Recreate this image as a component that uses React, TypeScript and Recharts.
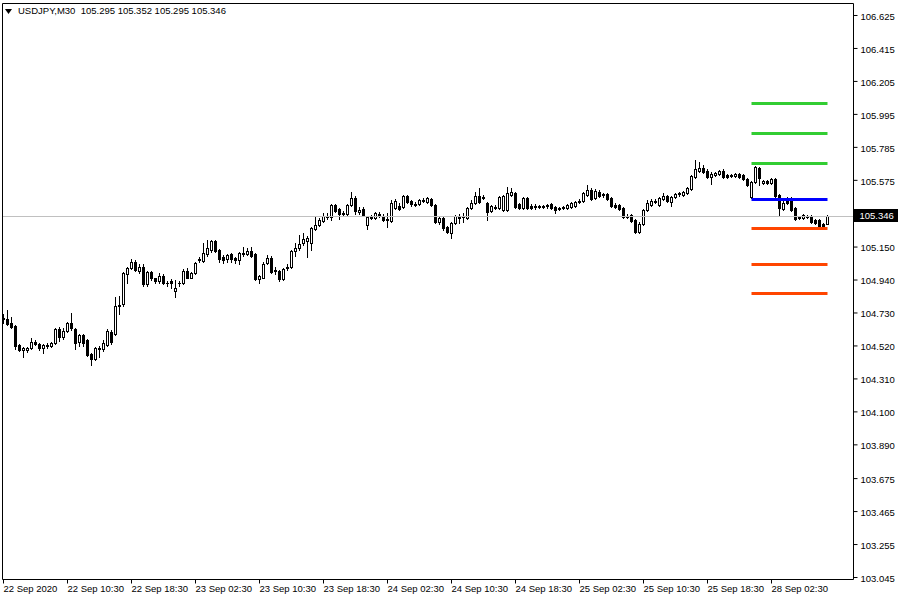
import React from "react";
import { ComposedChart, Bar, Line, XAxis, YAxis, ReferenceLine } from "recharts";

// ---- data (USDJPY M30) ----
const opens = [
104.694,104.694,104.669,104.650,104.528,104.496,104.496,104.509,104.548,104.535,
104.509,104.522,104.522,104.541,104.631,104.580,104.618,104.669,104.631,104.548,
104.592,104.560,104.471,104.439,104.503,104.503,104.528,104.612,104.599,104.777,
104.790,104.976,105.014,105.052,104.995,105.020,104.912,104.988,104.950,104.931,
104.963,104.924,104.931,104.867,104.918,104.918,104.995,104.956,104.982,105.065,
105.059,105.103,105.129,105.186,105.129,105.084,105.071,105.103,105.078,105.065,
105.103,105.103,105.123,105.103,104.944,104.956,105.046,105.078,104.995,104.995,
104.944,105.014,105.020,105.123,105.142,105.174,105.186,105.174,105.263,105.289,
105.314,105.340,105.340,105.417,105.391,105.365,105.359,105.417,105.461,105.372,
105.391,105.289,105.333,105.333,105.359,105.346,105.321,105.314,105.397,105.410,
105.404,105.474,105.442,105.423,105.423,105.449,105.436,105.455,105.417,105.308,
105.333,105.276,105.238,105.301,105.346,105.340,105.333,105.397,105.429,105.474,
105.468,105.429,105.378,105.397,105.397,105.385,105.385,105.481,105.493,105.423,
105.397,105.461,105.410,105.404,105.410,105.404,105.410,105.423,105.404,105.391,
105.397,105.397,105.404,105.410,105.436,105.442,105.481,105.513,105.461,105.500,
105.481,105.487,105.461,105.417,105.417,105.397,105.346,105.353,105.321,105.244,
105.295,105.385,105.417,105.442,105.417,105.455,105.474,105.436,105.468,105.487,
105.481,105.493,105.519,105.596,105.634,105.653,105.634,105.596,105.608,105.615,
105.634,105.608,105.608,105.602,105.615,105.608,105.583,105.468,105.564,105.653,
105.557,105.570,105.557,105.583,105.481,105.391,105.455,105.442,105.397,105.340,
105.333,105.346,105.346,105.321,105.321,105.295,105.295];
const highs = [
104.726,104.746,104.707,104.656,104.535,104.516,104.516,104.573,104.560,104.541,
104.535,104.541,104.548,104.637,104.643,104.637,104.675,104.733,104.637,104.599,
104.599,104.567,104.477,104.516,104.522,104.560,104.631,104.624,104.835,104.841,
104.988,105.020,105.071,105.065,105.040,105.040,104.995,104.995,104.956,104.982,
104.976,104.931,104.944,104.937,104.931,105.008,105.014,104.988,105.052,105.084,
105.174,105.193,105.193,105.193,105.135,105.097,105.103,105.110,105.084,105.116,
105.148,105.142,105.148,105.110,104.969,105.052,105.097,105.091,105.020,105.001,
105.014,105.040,105.129,105.174,105.225,105.238,105.218,105.276,105.340,105.333,
105.365,105.365,105.423,105.423,105.397,105.378,105.423,105.500,105.474,105.404,
105.404,105.346,105.353,105.372,105.372,105.359,105.365,105.449,105.455,105.429,
105.481,105.481,105.449,105.436,105.455,105.461,105.468,105.461,105.423,105.346,
105.340,105.282,105.308,105.353,105.359,105.365,105.404,105.449,105.500,105.525,
105.481,105.436,105.417,105.417,105.474,105.481,105.532,105.525,105.500,105.429,
105.468,105.468,105.423,105.423,105.417,105.417,105.423,105.429,105.410,105.404,
105.410,105.423,105.436,105.442,105.455,105.500,105.545,105.525,105.519,105.513,
105.493,105.493,105.468,105.429,105.423,105.404,105.359,105.359,105.327,105.308,
105.391,105.449,105.455,105.455,105.468,105.493,105.481,105.474,105.493,105.500,
105.506,105.532,105.608,105.704,105.692,105.672,105.647,105.628,105.628,105.640,
105.647,105.615,105.615,105.621,105.621,105.615,105.589,105.570,105.666,105.660,
105.577,105.577,105.589,105.589,105.487,105.449,105.468,105.468,105.404,105.346,
105.359,105.353,105.353,105.327,105.327,105.301,105.352];
const lows = [
104.669,104.656,104.637,104.503,104.490,104.452,104.484,104.503,104.528,104.496,
104.477,104.509,104.516,104.535,104.554,104.567,104.612,104.624,104.503,104.522,
104.522,104.458,104.400,104.432,104.452,104.490,104.522,104.535,104.592,104.726,
104.777,104.918,105.008,104.995,104.982,104.905,104.905,104.937,104.924,104.918,
104.912,104.905,104.892,104.835,104.905,104.912,104.950,104.950,104.976,105.052,
105.052,105.091,105.116,105.116,105.052,105.046,105.052,105.052,105.046,105.040,
105.091,105.097,105.084,104.937,104.918,104.950,105.040,104.982,104.976,104.931,
104.937,105.001,105.014,105.091,105.129,105.161,105.084,105.129,105.257,105.282,
105.308,105.327,105.321,105.372,105.327,105.353,105.353,105.410,105.359,105.359,
105.346,105.263,105.327,105.327,105.340,105.314,105.276,105.308,105.391,105.385,
105.397,105.429,105.410,105.410,105.417,105.436,105.429,105.410,105.301,105.295,
105.257,105.238,105.206,105.295,105.301,105.308,105.327,105.391,105.423,105.429,
105.455,105.321,105.372,105.391,105.391,105.378,105.378,105.474,105.397,105.391,
105.391,105.391,105.391,105.391,105.397,105.397,105.397,105.391,105.365,105.385,
105.391,105.391,105.397,105.404,105.429,105.436,105.474,105.449,105.455,105.468,
105.468,105.449,105.404,105.397,105.385,105.333,105.333,105.308,105.238,105.238,
105.289,105.378,105.410,105.429,105.410,105.449,105.436,105.410,105.461,105.474,
105.474,105.487,105.513,105.589,105.628,105.621,105.589,105.551,105.602,105.608,
105.589,105.589,105.596,105.596,105.589,105.577,105.538,105.461,105.557,105.545,
105.551,105.551,105.551,105.468,105.353,105.385,105.423,105.378,105.321,105.327,
105.327,105.333,105.301,105.295,105.276,105.276,105.295];
const closes = [
104.701,104.663,104.643,104.522,104.496,104.509,104.509,104.548,104.535,104.509,
104.528,104.524,104.541,104.631,104.580,104.618,104.669,104.637,104.541,104.592,
104.541,104.464,104.439,104.509,104.509,104.541,104.618,104.548,104.777,104.784,
104.982,105.014,105.052,105.001,105.020,104.912,104.988,104.950,104.931,104.963,
104.918,104.918,104.918,104.892,104.924,104.995,104.956,104.982,105.046,105.071,
105.110,105.142,105.186,105.123,105.071,105.065,105.097,105.071,105.065,105.110,
105.110,105.123,105.091,104.944,104.963,105.040,105.078,104.988,105.001,104.944,
105.008,105.020,105.123,105.142,105.167,105.199,105.206,105.270,105.289,105.321,
105.346,105.346,105.417,105.378,105.359,105.359,105.417,105.461,105.378,105.385,
105.353,105.340,105.340,105.365,105.346,105.321,105.327,105.429,105.442,105.391,
105.474,105.436,105.423,105.417,105.449,105.442,105.461,105.417,105.308,105.333,
105.270,105.244,105.301,105.346,105.333,105.346,105.397,105.429,105.474,105.436,
105.461,105.372,105.410,105.404,105.468,105.474,105.493,105.500,105.404,105.397,
105.461,105.397,105.397,105.410,105.404,105.410,105.417,105.397,105.385,105.397,
105.404,105.417,105.429,105.436,105.442,105.493,105.513,105.455,105.506,105.474,
105.487,105.455,105.410,105.404,105.391,105.340,105.340,105.314,105.244,105.295,
105.385,105.429,105.442,105.436,105.461,105.474,105.442,105.468,105.487,105.493,
105.500,105.525,105.602,105.647,105.653,105.628,105.596,105.615,105.621,105.634,
105.596,105.596,105.602,105.615,105.596,105.583,105.545,105.564,105.660,105.589,
105.570,105.557,105.583,105.474,105.397,105.429,105.429,105.385,105.327,105.333,
105.353,105.340,105.308,105.301,105.282,105.282,105.346];

// time axis labels (every 16 bars)
const timeTickIndex = [0, 16, 32, 48, 64, 80, 96, 112, 128, 144, 160, 176, 192];
const timeLabels = [
  "22 Sep 2020", "22 Sep 10:30", "22 Sep 18:30", "23 Sep 02:30", "23 Sep 10:30",
  "23 Sep 18:30", "24 Sep 02:30", "24 Sep 10:30", "24 Sep 18:30", "25 Sep 02:30",
  "25 Sep 10:30", "25 Sep 18:30", "28 Sep 02:30",
];

// price axis labels
const priceTicks = [
  106.625, 106.415, 106.205, 105.995, 105.785, 105.575, 105.15, 104.94, 104.73,
  104.52, 104.31, 104.1, 103.89, 103.675, 103.465, 103.255, 103.045,
];
const priceDomain: [number, number] = [103.0323, 106.7014];
const barDomain: [number, number] = [-0.25, 212.5];

// pivot levels (drawn from Monday open bar)
const pivotStartBar = 187;
const pivotKeys = ["r3", "r2", "r1", "pp", "s1", "s2", "s3"];
const pivotValues = [106.064, 105.873, 105.682, 105.453, 105.268, 105.039, 104.854];
const pivotColors = ["#32CD32", "#32CD32", "#32CD32", "#0000FF", "#FF4500", "#FF4500", "#FF4500"];

const symbolTitle = "USDJPY,M30";
const lastBar = { open: 105.295, high: 105.352, low: 105.295, close: 105.346 };

const FONT = "Tahoma, 'Liberation Sans', Arial, sans-serif";

const data = opens.map((o, i) => {
  const row: any = {
    i,
    open: o,
    high: highs[i],
    low: lows[i],
    close: closes[i],
    range: [lows[i], highs[i]],
  };
  if (i >= pivotStartBar) {
    pivotKeys.forEach((k, j) => (row[k] = pivotValues[j]));
  }
  return row;
});

const Candle = (props: any) => {
  const { x, y, width, height, payload } = props;
  if (!payload || height == null) return null;
  const { open, close, high, low } = payload;
  const span = high - low;
  const k = span > 0 ? height / span : 0;
  const yOf = (v: number) => Math.round(y + (high - v) * k);
  const C = Math.floor(x + width / 2);
  const yH = yOf(high);
  const yL = yOf(low);
  const yO = yOf(open);
  const yC = yOf(close);
  const top = Math.min(yO, yC);
  const bot = Math.max(yO, yC);
  const bull = close > open;
  let body;
  if (bot - top < 1) {
    body = <rect x={C - 1} y={top} width={3} height={1} fill="#000" />;
  } else if (bull) {
    body = (
      <rect x={C - 0.5} y={top + 0.5} width={2} height={bot - top} fill="#fff" stroke="#000" strokeWidth={1} />
    );
  } else {
    body = <rect x={C - 1} y={top} width={3} height={bot - top + 1} fill="#000" />;
  }
  return (
    <g shapeRendering="crispEdges">
      <line x1={C + 0.5} x2={C + 0.5} y1={yH} y2={yL + 1} stroke="#000" strokeWidth={1} />
      {body}
    </g>
  );
};

const XTick = (props: any) => {
  const { x, y, payload } = props;
  const idx = timeTickIndex.indexOf(payload.value);
  return (
    <text x={x} y={y} dy="0.71em" textAnchor="start" fontFamily={FONT} fontSize={9.5} fill="#000">
      {idx >= 0 ? timeLabels[idx] : ""}
    </text>
  );
};

const YTick = (props: any) => {
  const { x, y, payload } = props;
  return (
    <text x={x} y={y + 1} dy="0.355em" textAnchor="start" fontFamily={FONT} fontSize={9.5} fill="#000">
      {Number(payload.value).toFixed(3)}
    </text>
  );
};

const PriceTag = (props: any) => {
  const vb = props.viewBox || {};
  const x = vb.x + vb.width;
  const y = Math.round(vb.y);
  return (
    <g>
      <rect x={x + 0.5} y={y - 7} width={44} height={13} fill="#000" />
      <text x={x + 6} y={y} dy="0.3em" fontFamily={FONT} fontSize={9.5} fill="#fff">
        {lastBar.close.toFixed(3)}
      </text>
    </g>
  );
};

export default function App() {
  return (
    <div style={{ position: "absolute", left: 0, top: 0, width: 900, height: 600, background: "#fff" }}>
      <ComposedChart
        width={900}
        height={600}
        data={data}
        margin={{ top: 3.5, right: 0, bottom: 0, left: 2.5 }}
      >
        <XAxis
          dataKey="i"
          type="number"
          domain={barDomain}
          allowDataOverflow
          ticks={timeTickIndex}
          interval={0}
          height={20.5}
          tickSize={4}
          tickMargin={2}
          axisLine={{ stroke: "#000" }}
          tickLine={{ stroke: "#000" }}
          tick={<XTick />}
        />
        <YAxis
          type="number"
          orientation="right"
          domain={priceDomain}
          allowDataOverflow
          ticks={priceTicks}
          interval={0}
          width={46.5}
          tickSize={4}
          tickMargin={3}
          axisLine={{ stroke: "#000" }}
          tickLine={{ stroke: "#000" }}
          tick={<YTick />}
        />
        <ReferenceLine x={barDomain[0]} stroke="#000" ifOverflow="visible" />
        <ReferenceLine y={priceDomain[1]} stroke="#000" ifOverflow="visible" />
        <ReferenceLine
          y={lastBar.close}
          stroke="#C0C0C0"
          shapeRendering="crispEdges"
          label={<PriceTag />}
        />
        <Bar dataKey="range" shape={Candle} barSize={4} isAnimationActive={false} />
        {pivotKeys.map((k, j) => (
          <Line
            key={k}
            dataKey={k}
            stroke={pivotColors[j]}
            strokeWidth={3}
            dot={false}
            activeDot={false}
            isAnimationActive={false}
            connectNulls={false}
          />
        ))}
      </ComposedChart>
      <div
        style={{
          position: "absolute",
          left: 5,
          top: 5,
          fontFamily: FONT,
          fontSize: 9.5,
          color: "#000",
          whiteSpace: "pre",
          lineHeight: "12px",
          display: "flex",
          alignItems: "center",
        }}
      >
        <svg width={7} height={5} style={{ marginRight: 6 }}>
          <polygon points="0,0 7,0 3.5,5" fill="#000" />
        </svg>
        <span>
          {symbolTitle + "  " + [lastBar.open, lastBar.high, lastBar.low, lastBar.close].map((v) => v.toFixed(3)).join(" ")}
        </span>
      </div>
    </div>
  );
}
